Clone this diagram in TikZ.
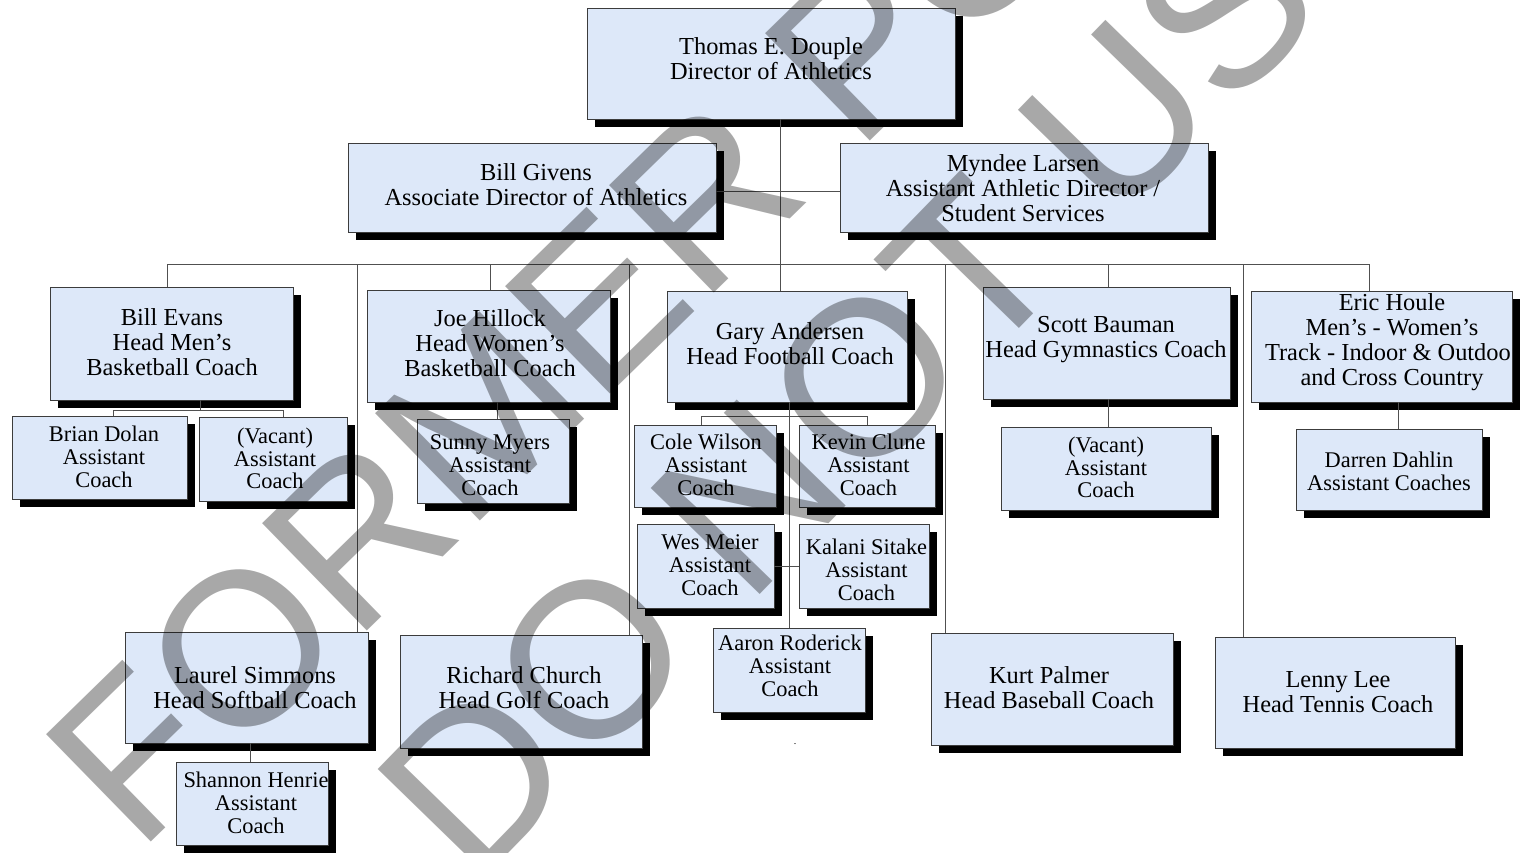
\documentclass[tikz,border=0pt]{standalone}
\usepackage{fontspec}
\setmainfont{Liberation Serif}
\newfontfamily\wmfont{Liberation Sans}
\definecolor{boxfill}{RGB}{221,232,249}
\definecolor{boxline}{RGB}{60,60,60}
\definecolor{conline}{RGB}{80,80,80}
\tikzset{
  orgrect/.style={draw=boxline, line width=0.9pt, fill=boxfill, inner sep=0pt, outer sep=0pt},
  headtxt/.style={align=center, inner sep=0pt, font=\fontsize{24.4}{25}\selectfont},
  asttxt/.style={align=center, inner sep=0pt, font=\fontsize{22.4}{22.7}\selectfont},
  conn/.style={draw=conline, line width=0.9pt},
  wm/.style={text=black, text opacity=0.34, anchor=base west, inner sep=0pt},
}
\newcommand\orgbox[9]{%
  \fill[black] (#2+8,#3+8) rectangle (#4+8,#5+8);
  \node[orgrect, minimum width={(#4-#2)*1pt}, minimum height={(#5-#3)*1pt}] (#1) at ({(#2+#4)/2},{(#3+#5)/2}) {};
  \node[#8] (#1-t) at (#6,#7) {#9};
}
\begin{document}
\begin{tikzpicture}[x=1pt,y=-1pt]
\useasboundingbox (0,0) rectangle (1520,852);
\clip (0,0) rectangle (1520,852);
\fill[white] (0,0) rectangle (1520,852);

% top levels
\orgbox{thomas}{587}{8}{955}{119}{771}{58.5}{headtxt}{Thomas E. Douple\\Director of Athletics}
\orgbox{givens}{348}{143}{716}{232}{536}{184.5}{headtxt}{Bill Givens\\Associate Director of Athletics}
\orgbox{larsen}{840}{143}{1208}{232}{1023}{188}{headtxt}{Myndee Larsen\\Assistant Athletic Director /\\Student Services}

% head coaches
\orgbox{evans}{50}{287}{293}{400}{172}{342}{headtxt}{Bill Evans\\Head Men’s\\Basketball Coach}
\orgbox{hillock}{367}{290}{610}{402}{490}{343}{headtxt}{Joe Hillock\\Head Women’s\\Basketball Coach}
\orgbox{andersen}{667}{291}{907}{402}{790}{343.5}{headtxt}{Gary Andersen\\Head Football Coach}
\orgbox{bauman}{983}{287}{1230}{399}{1106}{339.5}{headtxt}{Scott Bauman\\Head Gymnastics Coach}
\orgbox{houle}{1251}{291}{1512}{402}{1392}{342.5}{headtxt}{Eric Houle\\Men’s - Women’s\\Track - Indoor \& Outdoo\phantom{r}\\and Cross Country}
\orgbox{simmons}{125}{632}{368}{743}{255}{687.5}{headtxt}{Laurel Simmons\\Head Softball Coach}
\orgbox{church}{400}{635}{642}{748}{524}{687.5}{headtxt}{Richard Church\\Head Golf Coach}
\orgbox{palmer}{931}{633}{1173}{745}{1049}{687.5}{headtxt}{Kurt Palmer\\Head Baseball Coach}
\orgbox{lee}{1215}{637}{1455}{748}{1338}{692.5}{headtxt}{Lenny Lee\\Head Tennis Coach}

% assistants
\orgbox{brian}{12}{416}{187}{499}{104}{457}{asttxt}{Brian Dolan\\Assistant\\Coach}
\orgbox{vacanta}{199}{417}{347}{501}{275}{458.5}{asttxt}{(Vacant)\\Assistant\\Coach}
\orgbox{sunny}{417}{419}{569}{503}{490}{465}{asttxt}{Sunny Myers\\Assistant\\Coach}
\orgbox{cole}{634}{425}{776}{507}{706}{465}{asttxt}{Cole Wilson\\Assistant\\Coach}
\orgbox{kevin}{799}{425}{935}{507}{868.5}{465}{asttxt}{Kevin Clune\\Assistant\\Coach}
\orgbox{wes}{637}{524}{774}{608}{710}{565}{asttxt}{Wes Meier\\Assistant\\Coach}
\orgbox{kalani}{799}{524}{929}{608}{866.5}{570}{asttxt}{Kalani Sitake\\Assistant\\Coach}
\orgbox{aaron}{713}{628}{865}{712}{790}{666}{asttxt}{Aaron Roderick\\Assistant\\Coach}
\orgbox{vacantb}{1001}{427}{1211}{510}{1106}{467.5}{asttxt}{(Vacant)\\Assistant\\Coach}
\orgbox{darren}{1296}{429}{1482}{510}{1389}{471}{asttxt}{Darren Dahlin\\Assistant Coaches}
\orgbox{shannon}{176}{762}{328}{845}{256}{803}{asttxt}{Shannon Henrie\\Assistant\\Coach}

\node[inner sep=0pt, font=\fontsize{10}{10}\selectfont] (dot) at (795,744) {.};

% connectors
\coordinate (busL) at (167,264);
\coordinate (busR) at (1369,264);
\draw[conn] (busL) -- (busR);
\draw[conn] (780,0 |- thomas.south) -- (780,0 |- andersen.north);
\draw[conn] ([yshift=-3.5pt]givens.east) -- ([yshift=-3.5pt]larsen.west);
\draw[conn] (busL) -- (busL |- evans.north);
\draw[conn] (357,0 |- busL) -- (357,0 |- simmons.north);
\draw[conn] (490,0 |- busL) -- (490,0 |- hillock.north);
\draw[conn] (629,0 |- busL) -- (629,0 |- church.north);
\draw[conn] (945,0 |- busL) -- (945,0 |- palmer.north);
\draw[conn] (1108,0 |- busL) -- (1108,0 |- bauman.north);
\draw[conn] (1243,0 |- busL) -- (1243,0 |- lee.north);
\draw[conn] (busR) -- (busR |- houle.north);

\coordinate (evj) at (200,410);
\draw[conn] (200,0 |- evans.south) -- (evj);
\draw[conn] (113,410) -- (283,410);
\draw[conn] (113,410) -- (113,0 |- brian.north);
\draw[conn] (283,410) -- (283,0 |- vacanta.north);

\draw[conn] (497,0 |- hillock.south) -- (497,0 |- sunny.north);

\draw[conn] (789,0 |- andersen.south) -- (789,0 |- aaron.north);
\draw[conn] (701,416) -- (867,416);
\draw[conn] (701,416) -- (701,0 |- cole.north);
\draw[conn] (867,416) -- (867,0 |- kevin.north);
\draw[conn] (wes.east) -- (kalani.west);

\draw[conn] (1108,0 |- bauman.south) -- (1108,0 |- vacantb.north);
\draw[conn] (1398,0 |- houle.south) -- (1398,0 |- darren.north);
\draw[conn] (250,0 |- simmons.south) -- (250,0 |- shannon.north);

% watermark
\node[wm, rotate=44.3, font=\wmfont\fontsize{218}{255}\selectfont] (wm1) at (138,855) {FORMER PO};
\node[wm, rotate=45.8, font=\wmfont\fontsize{221}{255}\selectfont] (wm2) at (474,889) {DO NOT USE};
\end{tikzpicture}
\end{document}
